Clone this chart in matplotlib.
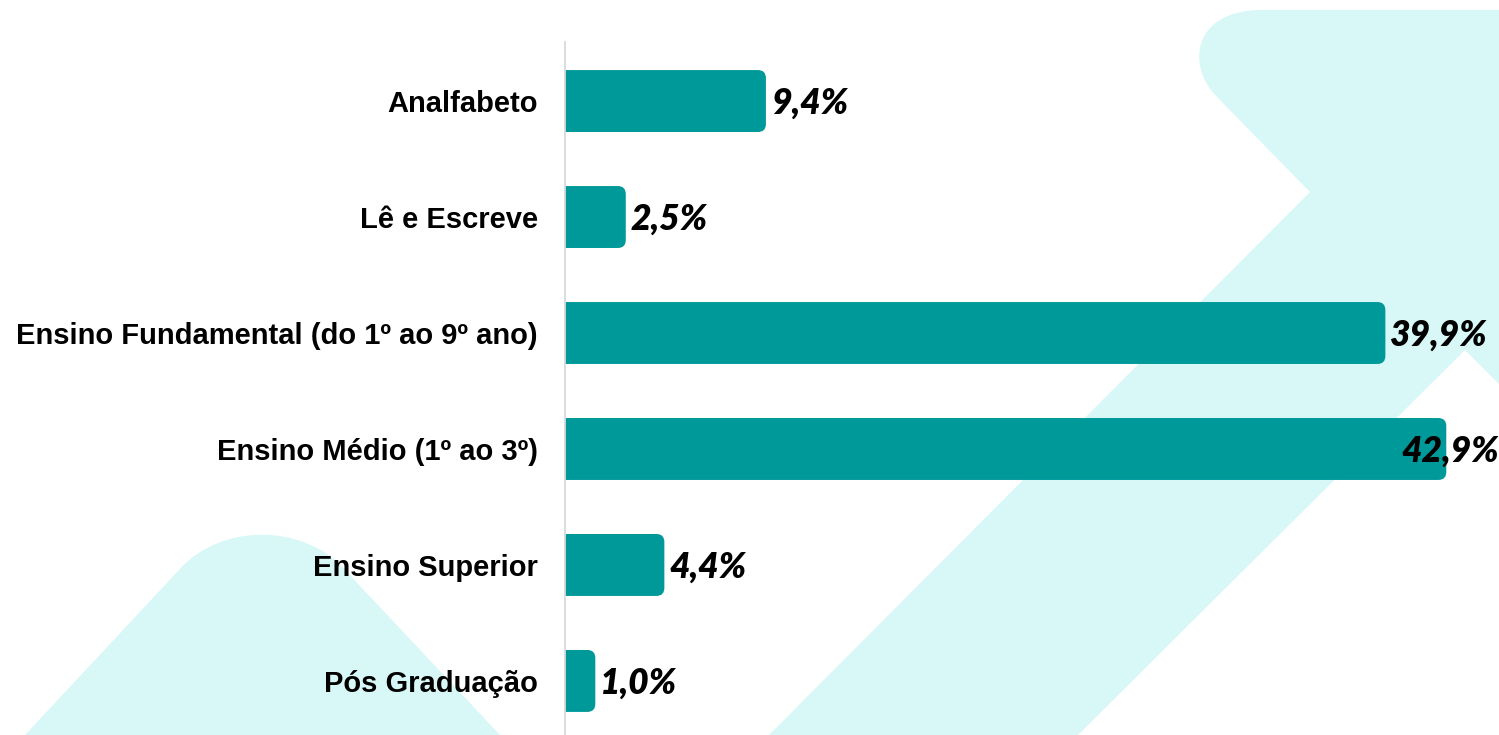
import matplotlib
matplotlib.use("Agg")
import matplotlib.pyplot as plt
from matplotlib.patches import FancyBboxPatch, PathPatch
from matplotlib.path import Path

categories = ['Analfabeto', 'Lê e Escreve', 'Ensino Fundamental (do 1º ao 9º ano)',
              'Ensino Médio (1º ao 3º)', 'Ensino Superior', 'Pós Graduação']
values = [9.4, 2.5, 39.9, 42.9, 4.4, 1.0]
value_labels = [f"{v:.1f}".replace('.', ',') + '%' for v in values]

BAR = '#009999'
LIGHT = '#D8F7F7'
W, H = 1499, 735

fig = plt.figure(figsize=(W / 100, H / 100), dpi=100)
fig.patch.set_facecolor('white')

# decorative background shapes (pixel space)
bg = fig.add_axes([0, 0, 1, 1], zorder=0)
bg.set_xlim(0, W)
bg.set_ylim(H, 0)
bg.axis('off')
arrow = Path([(769, 735), (1310, 192), (1217, 97),
              (1186, 66), (1192, 10), (1262, 10),
              (1499, 10), (1499, 384), (1465, 350), (1078, 735), (769, 735)],
             [Path.MOVETO, Path.LINETO, Path.LINETO,
              Path.CURVE4, Path.CURVE4, Path.CURVE4,
              Path.LINETO, Path.LINETO, Path.LINETO, Path.LINETO, Path.CLOSEPOLY])
bg.add_patch(PathPatch(arrow, facecolor=LIGHT, edgecolor='none'))
tri = Path([(25, 735), (179, 570), (220, 523), (304, 523), (345, 570), (500, 735), (25, 735)],
           [Path.MOVETO, Path.LINETO, Path.CURVE4, Path.CURVE4, Path.CURVE4, Path.LINETO, Path.CLOSEPOLY])
bg.add_patch(PathPatch(tri, facecolor=LIGHT, edgecolor='none'))

# main axes
ax_left_px, ax_top_px = 565, 42
ax = fig.add_axes([ax_left_px / W, 0, (W - ax_left_px) / W, (H - ax_top_px) / H], zorder=1)
ax.patch.set_alpha(0)

px_per_unit = 20.31
zero_px = 575
xmin = -(zero_px - ax_left_px) / px_per_unit
xmax = (W - zero_px) / px_per_unit
ax.set_xlim(xmin, xmax)
ax.set_ylim(5.466, -0.509)

bar_h = 0.534
y_unit_px = 116
aspect = (1 / y_unit_px) / (1 / px_per_unit)
r = 8 / px_per_unit
for i, v in enumerate(values):
    start = xmin - 1.0
    p = FancyBboxPatch((start, i - bar_h / 2), v - start, bar_h,
                       boxstyle=f"round,pad=0,rounding_size={r}",
                       mutation_aspect=aspect, facecolor=BAR, edgecolor='none',
                       clip_on=True, zorder=2)
    ax.add_patch(p)

ax.set_yticks(range(len(categories)))
ax.set_yticklabels(categories, fontfamily='Liberation Sans', fontweight='bold', fontsize=21)
ax.tick_params(axis='y', length=0, pad=19.5)
ax.set_xticks([])
for s in ['top', 'right', 'bottom']:
    ax.spines[s].set_visible(False)
ax.spines['left'].set_color('#D9D9D9')
ax.spines['left'].set_linewidth(1.3)

fig.canvas.draw()
renderer = fig.canvas.get_renderer()
off = 5 / px_per_unit
for i, (v, lab) in enumerate(zip(values, value_labels)):
    t = ax.text(v + off, i + 0.02, lab, ha='left', va='center',
                fontfamily=['Lato', 'DejaVu Sans'], fontweight='heavy', fontstyle='italic',
                fontsize=25.5, color='black', zorder=3, clip_on=False)
    bb = t.get_window_extent(renderer)
    if bb.x1 > fig.bbox.x1:
        t.set_ha('right')
        t.set_x(xmax)

fig.savefig('out.png', dpi=100)
